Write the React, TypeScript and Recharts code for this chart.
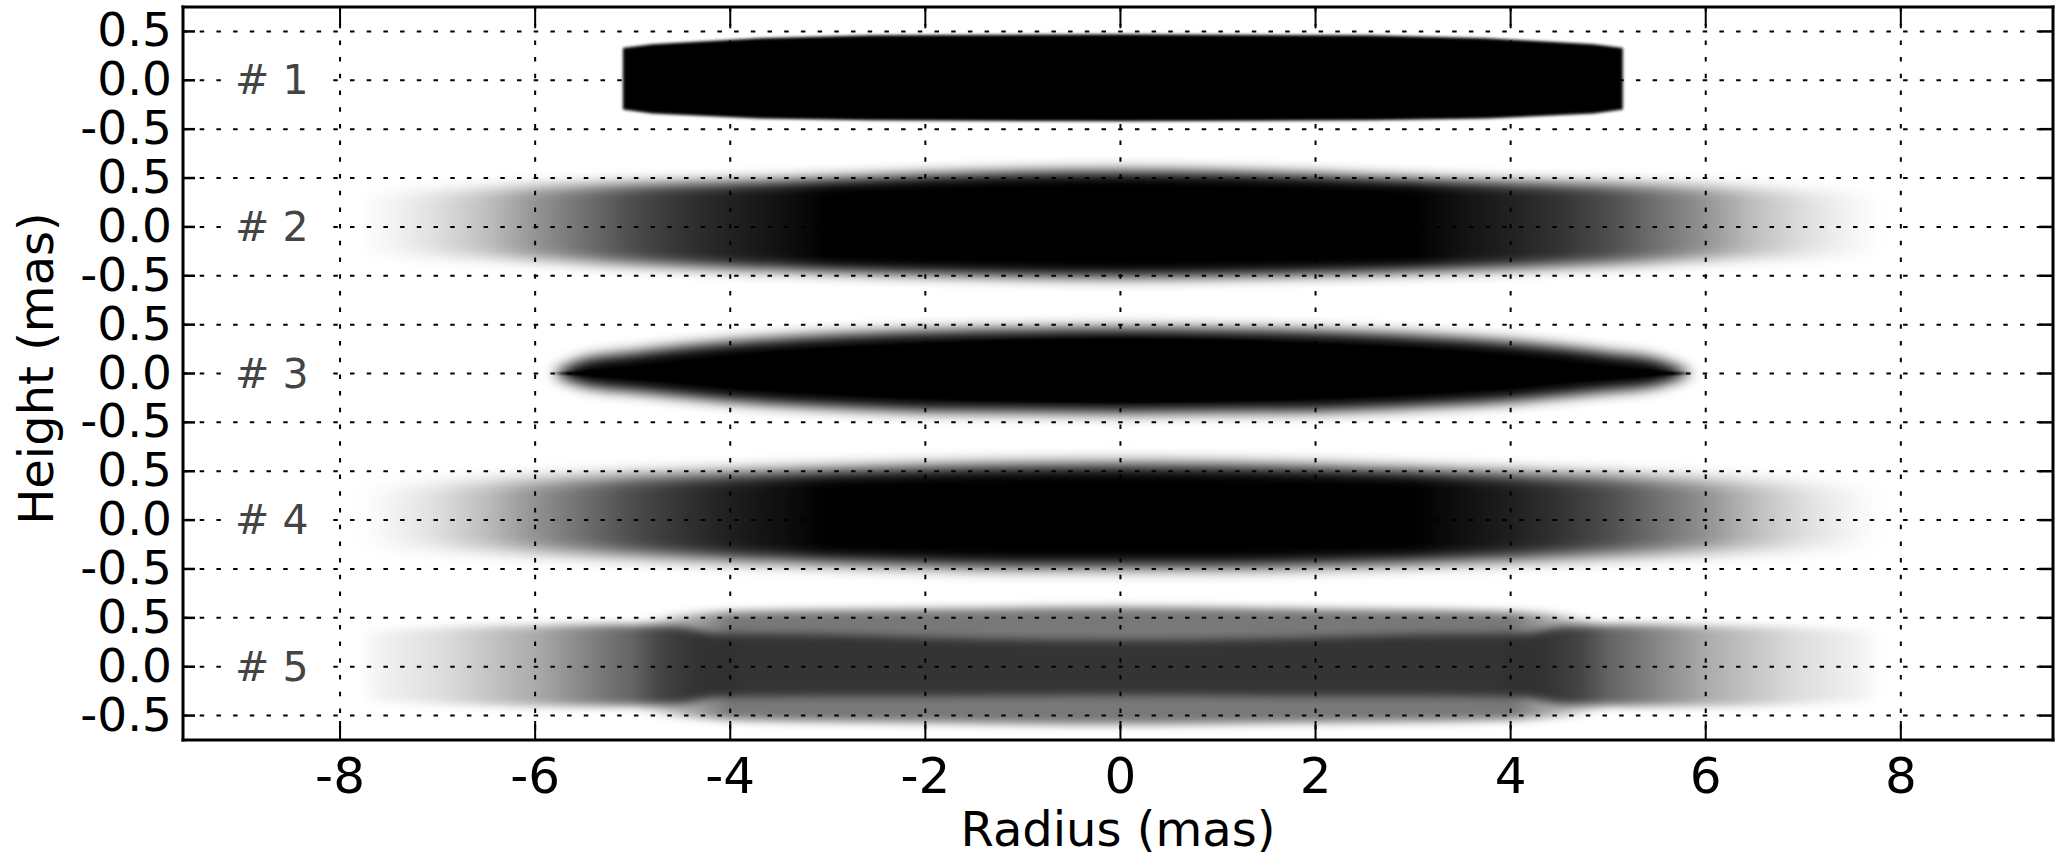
import { ComposedChart, Area, XAxis, YAxis, CartesianGrid, ReferenceDot, Label } from 'recharts'

const radiusTicks = [-8, -6, -4, -2, 0, 2, 4, 6, 8]
const radiusDomain = [-9.61, 9.56]
const heightOffsets = [-0.5, 0, 0.5]
const heightLabels = ['-0.5', '0.0', '0.5']
const modelNames = ['# 1', '# 2', '# 3', '# 4', '# 5']
const PANEL = 1.5
const FONT = '"DejaVu Sans", sans-serif'

// model #1: sharp edged disk
const m1R = [-5.1, -4.8, -3.7, -2.55, 0, 2.55, 3.75, 4.85, 5.15]
const m1Top = [0.33, 0.37, 0.43, 0.46, 0.47, 0.46, 0.43, 0.37, 0.33]
const m1Bot = [-0.3, -0.34, -0.39, -0.41, -0.42, -0.41, -0.39, -0.34, -0.3]

// model #2
const m2R = [-7.8, -7, -6, -5, -4, -3, -2, -1, 0, 1, 2, 3, 4, 5, 6, 7, 7.8]
const m2Top = [0.34, 0.37, 0.41, 0.44, 0.46, 0.49, 0.53, 0.56, 0.57, 0.56, 0.53, 0.49, 0.46, 0.44, 0.41, 0.37, 0.34]
const m2Bot = [-0.27, -0.3, -0.33, -0.38, -0.42, -0.45, -0.48, -0.5, -0.51, -0.5, -0.48, -0.45, -0.42, -0.38, -0.33, -0.3, -0.27]
const m2ShadeR = [-7.8, -7.5, -7, -6.5, -6, -5, -4.5, -4, -3.5, -3, 3, 3.5, 4, 4.5, 5, 6, 6.5, 7, 7.5, 7.8]
const m2Shade = [0, 0.04, 0.13, 0.25, 0.42, 0.7, 0.8, 0.87, 0.93, 1, 1, 0.93, 0.87, 0.8, 0.7, 0.42, 0.25, 0.13, 0.04, 0]

// model #3: thin lens with a soft halo
const m3R = [-5.82, -5.5, -5, -4.5, -4, -3, -2, -1, 0, 1, 2, 3, 4, 4.5, 5, 5.5, 5.86]
const m3CoreTop = [0, 0.03, 0.07, 0.12, 0.18, 0.26, 0.31, 0.35, 0.36, 0.35, 0.31, 0.26, 0.18, 0.12, 0.07, 0.03, 0]
const m3CoreBot = [0, -0.025, -0.06, -0.1, -0.15, -0.21, -0.26, -0.29, -0.3, -0.29, -0.26, -0.21, -0.15, -0.1, -0.06, -0.025, 0]
const m3HaloTop = [0, 0.14, 0.21, 0.27, 0.32, 0.39, 0.43, 0.45, 0.46, 0.45, 0.43, 0.39, 0.32, 0.27, 0.21, 0.14, 0]
const m3HaloBot = [0, -0.12, -0.18, -0.23, -0.28, -0.34, -0.38, -0.39, -0.4, -0.39, -0.38, -0.34, -0.28, -0.23, -0.18, -0.12, 0]

// model #4
const m4R = [-7.8, -7, -6, -5, -4, -3, -2, -1, 0, 1, 2, 3, 4, 5, 6, 7, 7.8]
const m4Top = [0.33, 0.37, 0.41, 0.45, 0.48, 0.51, 0.54, 0.56, 0.57, 0.56, 0.54, 0.51, 0.48, 0.45, 0.41, 0.37, 0.33]
const m4Bot = [-0.26, -0.29, -0.32, -0.36, -0.4, -0.43, -0.46, -0.48, -0.48, -0.48, -0.46, -0.43, -0.4, -0.36, -0.32, -0.29, -0.26]
const m4ShadeR = [-7.8, -7.5, -7, -6.5, -6, -5, -4.5, -4, -3.5, -3, 3, 3.5, 4, 4.5, 5, 6, 6.5, 7, 7.5, 7.8]
const m4Shade = [0, 0.04, 0.13, 0.26, 0.43, 0.7, 0.8, 0.88, 0.94, 1, 1, 0.94, 0.88, 0.8, 0.7, 0.43, 0.26, 0.13, 0.04, 0]

// model #5: dark inner band + grey outer band
const m5InR = [-7.8, -7, -6, -5.2, -4.6, -4.1, -3, -2, 0, 2, 3, 4.1, 4.6, 5.2, 6, 7, 7.8]
const m5InTop = [0.36, 0.4, 0.42, 0.43, 0.42, 0.34, 0.33, 0.3, 0.27, 0.3, 0.33, 0.34, 0.42, 0.43, 0.42, 0.4, 0.36]
const m5InBot = [-0.34, -0.38, -0.4, -0.4, -0.39, -0.31, -0.3, -0.3, -0.29, -0.3, -0.3, -0.31, -0.39, -0.4, -0.4, -0.38, -0.34]
const m5InShadeR = [-7.8, -7.6, -6.9, -6, -5.2, -4.7, -4.3, -3.9, 3.9, 4.3, 4.7, 5.2, 6, 6.9, 7.6, 7.8]
const m5InShade = [0, 0.05, 0.14, 0.33, 0.56, 0.68, 0.68, 0.57, 0.57, 0.68, 0.68, 0.56, 0.33, 0.14, 0.05, 0]
const m5OutR = [-5, -4.5, -4, -3, -2, 0, 2, 3, 4, 4.5, 5]
const m5OutTop = [0.46, 0.53, 0.56, 0.58, 0.59, 0.61, 0.59, 0.58, 0.56, 0.53, 0.46]
const m5OutBot = [-0.45, -0.51, -0.54, -0.56, -0.57, -0.59, -0.57, -0.56, -0.54, -0.51, -0.45]
const m5OutShadeR = [-5, -4.5, -4, 4, 4.5, 5]
const m5OutShade = [0, 0.3, 0.53, 0.53, 0.3, 0]

type Layer = {
  key: string
  panel: number
  r: number[]
  top: number[]
  bot: number[]
  shadeR?: number[]
  shade?: number[]
  level?: number
  blur: number
  curve: 'linear' | 'monotone'
}

const layers: Layer[] = [
  { key: 'm1', panel: 0, r: m1R, top: m1Top, bot: m1Bot, level: 1, blur: 1.4, curve: 'linear' },
  { key: 'm2', panel: 1, r: m2R, top: m2Top, bot: m2Bot, shadeR: m2ShadeR, shade: m2Shade, blur: 7, curve: 'monotone' },
  { key: 'm3halo', panel: 2, r: m3R, top: m3HaloTop, bot: m3HaloBot, level: 1, blur: 7, curve: 'monotone' },
  { key: 'm3core', panel: 2, r: m3R, top: m3CoreTop, bot: m3CoreBot, level: 1, blur: 1.2, curve: 'monotone' },
  { key: 'm4', panel: 3, r: m4R, top: m4Top, bot: m4Bot, shadeR: m4ShadeR, shade: m4Shade, blur: 8, curve: 'monotone' },
  { key: 'm5out', panel: 4, r: m5OutR, top: m5OutTop, bot: m5OutBot, shadeR: m5OutShadeR, shade: m5OutShade, blur: 4, curve: 'monotone' },
  { key: 'm5in', panel: 4, r: m5InR, top: m5InTop, bot: m5InBot, shadeR: m5InShadeR, shade: m5InShade, blur: 4, curve: 'monotone' },
]

const panelBase = (i: number) => (modelNames.length - 1 - i) * PANEL + PANEL / 2

const allR = Array.from(new Set(layers.flatMap(l => l.r))).sort((a, b) => a - b)
const table = allR.map(x => {
  const row: any = { x }
  layers.forEach(l => {
    const i = l.r.indexOf(x)
    if (i >= 0) row[l.key] = [l.bot[i] + panelBase(l.panel), l.top[i] + panelBase(l.panel)]
  })
  return row
})

const heightTicks = modelNames.flatMap((_, i) => heightOffsets.map(o => panelBase(i) + o)).sort((a, b) => a - b)

const heightText = (v: number) => {
  const i = modelNames.length - 1 - Math.floor(v / PANEL)
  const d = Math.round((v - panelBase(i)) * 2) / 2
  return heightLabels[heightOffsets.indexOf(d)]
}

const BottomTick = ({ x, y, payload }: any) => (
  <g>
    <line x1={x} x2={x} y1={y} y2={y - 19} stroke="#000" strokeWidth={2} />
    <text x={x} y={y + 53} textAnchor="middle" fontSize={50} fontFamily={FONT} fill="#000">{payload.value}</text>
  </g>
)
const TopTick = ({ x, y }: any) => <line x1={x} x2={x} y1={y} y2={y + 19} stroke="#000" strokeWidth={2} />
const LeftTick = ({ x, y, payload }: any) => (
  <g>
    <line x1={x} x2={x + 12} y1={y} y2={y} stroke="#000" strokeWidth={2.5} />
    <text x={x - 11} y={y + 15} textAnchor="end" fontSize={47} fontFamily={FONT} fill="#000">{heightText(payload.value)}</text>
  </g>
)
const RightTick = ({ x, y }: any) => <line x1={x} x2={x - 14} y1={y} y2={y} stroke="#000" strokeWidth={2.5} />

const frame = { stroke: '#000', strokeWidth: 3, strokeLinecap: 'square' as const }

export default function App() {
  const css = layers.map(l => `.lay-${l.key} { filter: url(#blur-${l.key}); }`).join('\n')
  return (
    <div style={{ position: 'absolute', left: 0, top: 0, width: 2056, height: 862, background: '#fff' }}>
      <style>{css}</style>
      <ComposedChart width={2056} height={862} data={table} margin={{ top: 6, right: 2, bottom: 0, left: 182 }}>
        <defs>
          {layers.map(l => (
            <filter key={'f' + l.key} id={`blur-${l.key}`} x="-20%" y="-80%" width="140%" height="260%">
              <feGaussianBlur stdDeviation={l.blur} />
            </filter>
          ))}
          {layers.filter(l => l.shade).map(l => {
            const r0 = l.r[0]
            const r1 = l.r[l.r.length - 1]
            return (
              <linearGradient key={'g' + l.key} id={`shade-${l.key}`} x1="0" y1="0" x2="1" y2="0">
                {l.shadeR!.map((r, i) => (
                  <stop key={i} offset={(r - r0) / (r1 - r0)} stopColor="#000" stopOpacity={l.shade![i]} />
                ))}
              </linearGradient>
            )
          })}
        </defs>
        <CartesianGrid stroke="#000" strokeWidth={2} strokeDasharray="4.5 12.2" />
        <XAxis dataKey="x" type="number" domain={radiusDomain} allowDataOverflow ticks={radiusTicks} interval={0}
          height={122} axisLine={frame} tickLine={false} tickSize={0} tickMargin={0} tick={BottomTick}>
          <Label content={({ viewBox }: any) => (
            <text x={viewBox.x + viewBox.width / 2} y={846} textAnchor="middle" fontSize={48} fontFamily={FONT} fill="#000">Radius (mas)</text>
          )} />
        </XAxis>
        <XAxis xAxisId="top" orientation="top" dataKey="x" type="number" domain={radiusDomain} allowDataOverflow
          ticks={radiusTicks} interval={0} height={1} axisLine={frame} tickLine={false} tickSize={0} tickMargin={0} tick={TopTick} />
        <YAxis type="number" domain={[0, PANEL * modelNames.length]} allowDataOverflow ticks={heightTicks} interval={0}
          width={1} axisLine={frame} tickLine={false} tickSize={0} tickMargin={0} tick={LeftTick}>
          <Label content={({ viewBox }: any) => {
            const cy = viewBox.y + viewBox.height / 2 - 5
            return (
              <text x={53} y={cy} transform={`rotate(-90 53 ${cy})`} textAnchor="middle" fontSize={48} fontFamily={FONT} fill="#000">Height (mas)</text>
            )
          }} />
        </YAxis>
        <YAxis yAxisId="right" orientation="right" type="number" domain={[0, PANEL * modelNames.length]} allowDataOverflow
          ticks={heightTicks} interval={0} width={1} axisLine={frame} tickLine={false} tickSize={0} tickMargin={0} tick={RightTick} />
        {layers.map(l => (
          <Area key={l.key} className={`lay-${l.key}`} dataKey={l.key} type={l.curve} connectNulls
            stroke="none" fill={l.shade ? `url(#shade-${l.key})` : '#000'} fillOpacity={l.shade ? 1 : l.level}
            dot={false} activeDot={false} isAnimationActive={false} />
        ))}
        {modelNames.map((name, i) => (
          <ReferenceDot key={name} x={-8.7} y={panelBase(i)} r={0}
            shape={(p: any) => (
              <g>
                <rect x={p.cx - 50} y={p.cy - 20} width={107} height={40} fill="#fff" />
                <text x={p.cx} y={p.cy + 14} textAnchor="middle" fontSize={41} fontFamily={FONT} fill="#444">{name}</text>
              </g>
            )} />
        ))}
      </ComposedChart>
    </div>
  )
}
